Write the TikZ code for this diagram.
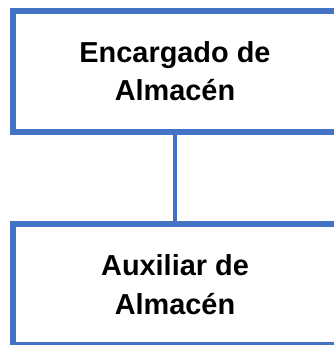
\documentclass[tikz,border=0pt]{standalone}
\usepackage{fontspec}
\setmainfont{Liberation Sans}
\definecolor{boxblue}{HTML}{4472C4}
\tikzset{
    puesto/.style={draw=boxblue, line width=6bp, rectangle, minimum width=324bp, minimum height=121bp,
        align=center, inner sep=0pt, font=\bfseries\fontsize{29}{38.5}\selectfont},
    enlace/.style={draw=boxblue, line width=4bp}
}
\begin{document}
\begin{tikzpicture}[x=1bp, y=-1bp]
    \useasboundingbox (0,0) rectangle (334,345);

    % Boxes
    \node[puesto] (encargado) at (175,71) {Encargado de\\Almacén};
    \node[puesto] (auxiliar) at (175,284.5) {Auxiliar de\\Almacén};

    % Connector
    \draw[enlace] (encargado.south) -- (auxiliar.north);
\end{tikzpicture}
\end{document}
